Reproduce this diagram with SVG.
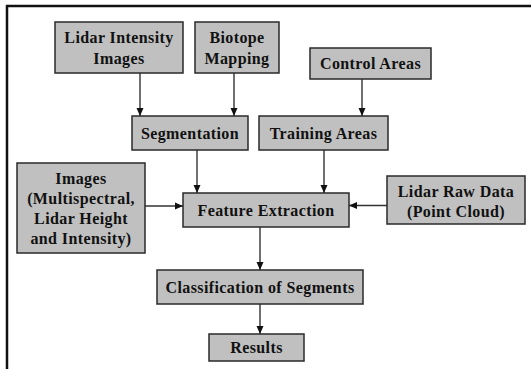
<svg xmlns="http://www.w3.org/2000/svg" width="531" height="369" viewBox="0 0 531 369">
<style>
.box{fill:#c0c0c0;stroke:#2a2a2a;stroke-width:1.5}
.t{font-family:'Liberation Serif','DejaVu Serif',serif;font-weight:700;font-size:16px;letter-spacing:0.4px;fill:#111;text-anchor:middle}
.c{stroke:#333;stroke-width:1.4;fill:none;marker-end:url(#ah)}
</style>
<defs>
<marker id="ah" viewBox="0 0 8 8" refX="8" refY="4" markerWidth="8" markerHeight="8" markerUnits="userSpaceOnUse" orient="auto">
<path d="M0,0.5 L8,4 L0,7.5 Z" fill="#111"/>
</marker>
</defs>
<rect width="531" height="369" fill="#fff"/>
<g id="frame">
<line x1="6" y1="6" x2="531" y2="6" stroke="#111" stroke-width="2.5"/>
<line x1="7" y1="5" x2="7" y2="369" stroke="#111" stroke-width="2.5"/>
</g>
<g id="connectors">
<line class="c" x1="140" y1="73" x2="140" y2="116"/>
<line class="c" x1="234" y1="73" x2="234" y2="116"/>
<line class="c" x1="362" y1="79" x2="362" y2="116"/>
<line class="c" x1="197" y1="150" x2="197" y2="193"/>
<line class="c" x1="324" y1="150" x2="324" y2="193"/>
<line class="c" x1="145" y1="206" x2="183" y2="206"/>
<line class="c" x1="387" y1="205.5" x2="349" y2="205.5"/>
<line class="c" x1="260" y1="227" x2="260" y2="270"/>
<line class="c" x1="260" y1="304" x2="260" y2="334"/>
</g>
<g id="lidar-intensity">
<rect class="box" x="55" y="22" width="128" height="51"/>
<text class="t" x="119" y="43">Lidar Intensity</text>
<text class="t" x="119" y="64">Images</text>
</g>
<g id="biotope">
<rect class="box" x="195" y="22" width="84" height="51"/>
<text class="t" x="237" y="43">Biotope</text>
<text class="t" x="237" y="64">Mapping</text>
</g>
<g id="control">
<rect class="box" x="310" y="48" width="121" height="31"/>
<text class="t" x="370.5" y="69">Control Areas</text>
</g>
<g id="segmentation">
<rect class="box" x="132" y="116" width="116" height="34"/>
<text class="t" x="190" y="138.5">Segmentation</text>
</g>
<g id="training">
<rect class="box" x="259" y="116" width="129" height="34"/>
<text class="t" x="323.5" y="138.5">Training Areas</text>
</g>
<g id="images">
<rect class="box" x="17" y="163" width="128" height="90"/>
<text class="t" x="81" y="184">Images</text>
<text class="t" x="81" y="204">(Multispectral,</text>
<text class="t" x="81" y="224">Lidar Height</text>
<text class="t" x="81" y="244">and Intensity)</text>
</g>
<g id="feature">
<rect class="box" x="183" y="193" width="166" height="34"/>
<text class="t" x="266" y="215.5">Feature Extraction</text>
</g>
<g id="lidar-raw">
<rect class="box" x="387" y="176" width="138" height="48"/>
<text class="t" x="456" y="197">Lidar Raw Data</text>
<text class="t" x="456" y="217">(Point Cloud)</text>
</g>
<g id="classification">
<rect class="box" x="157" y="270" width="206" height="34"/>
<text class="t" x="260" y="292.5">Classification of Segments</text>
</g>
<g id="results">
<rect class="box" x="209" y="334" width="95" height="27"/>
<text class="t" x="256.5" y="353">Results</text>
</g>
</svg>
